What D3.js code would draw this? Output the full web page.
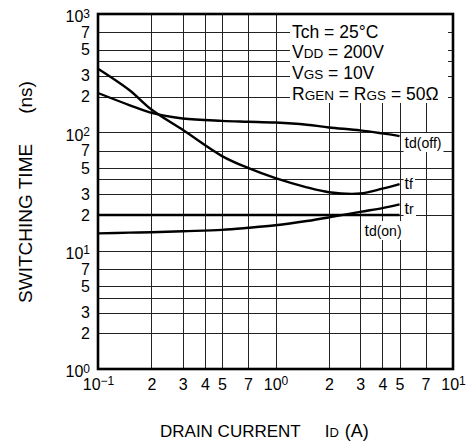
<!DOCTYPE html>
<html>
<head>
<meta charset="utf-8">
<script src="https://cdn.jsdelivr.net/npm/d3@7"></script>
<style>
  body { margin: 0; background: #fff; }
  svg { font-family: "Liberation Sans", Arial, sans-serif; }
  .grid line { stroke: #222; stroke-width: 1; shape-rendering: crispEdges; }
  .grid .domain { display: none; }
  .lbl .domain { display: none; }
  .lbl text { font-size: 16px; fill: #000; }
  .curve { fill: none; stroke: #000; stroke-width: 2.4; }
</style>
</head>
<body>
<svg id="chart"></svg>
<script>
// drain current (A) at which the curves were read
var CURRENT = [0.1, 0.15, 0.2, 0.3, 0.5, 0.7, 1, 1.5, 2, 3, 4, 5];

// switching times (ns)
var TD_OFF = [215, 170, 146, 131, 125, 123, 121, 116, 110, 104, 98, 93];
var TF     = [345, 228, 156, 105, 63, 50, 41, 34.3, 31.2, 30.4, 33.4, 36.5];
var TR     = [14.0, 14.2, 14.3, 14.6, 15.0, 15.6, 16.4, 17.8, 19.1, 21.3, 22.9, 24.6];
var TD_ON  = [20, 20, 20, 20, 20, 20, 20, 20, 20, 20, 20, 20];

var X_GRID = [0.1, 0.2, 0.3, 0.4, 0.5, 0.7, 1, 2, 3, 4, 5, 7, 10];
var Y_GRID = [1, 2, 3, 4, 5, 7, 10, 20, 30, 40, 50, 70, 100, 200, 300, 400, 500, 700, 1000];
var X_LABELS = [0.1, 0.2, 0.3, 0.4, 0.5, 0.7, 1, 2, 3, 4, 5, 7, 10];
var Y_LABELS = [1, 2, 3, 5, 7, 10, 20, 30, 50, 70, 100, 200, 300, 500, 700, 1000];

var CONDITIONS = [
    [["Tch = 25°C", 0]],
    [["V", 0], ["DD", 1], [" = 200V", 0]],
    [["V", 0], ["GS", 1], [" = 10V", 0]],
    [["R", 0], ["GEN", 1], [" = R", 0], ["GS", 1], [" = 50Ω", 0]]
];

(function () {
    var WIDTH = 473, HEIGHT = 441;
    var MARGIN = {left: 98, right: 20, top: 14, bottom: 72};
    var w = WIDTH - MARGIN.left - MARGIN.right;
    var h = HEIGHT - MARGIN.top - MARGIN.bottom;

    var svg = d3.select("#chart").attr("width", WIDTH).attr("height", HEIGHT);
    var chart = svg.append("g").attr("transform", "translate(" + MARGIN.left + "," + MARGIN.top + ")");

    var x = d3.scaleLog().domain([0.1, 10]).range([0, w]);
    var y = d3.scaleLog().domain([1, 1000]).range([h, 0]);

    function isDecade(v) { return Math.abs(Math.log10(v) - Math.round(Math.log10(v))) < 1e-9; }
    function mantissa(v) { return String(Math.round(v / Math.pow(10, Math.floor(Math.log10(v) + 1e-9)))); }

    // write 10^n as base + superscript
    function powerLabels(sel) {
        sel.selectAll(".tick text").each(function (d) {
            if (!isDecade(d)) return;
            var t = d3.select(this).text("");
            var n = Math.round(Math.log10(d));
            t.append("tspan").text("10");
            t.append("tspan").attr("dy", -4.5).style("font-size", "12px")
                .text(n < 0 ? "\u2212" + (-n) : n);
        });
    }

    // grid
    chart.append("g").attr("class", "grid")
        .attr("transform", "translate(0," + h + ")")
        .call(d3.axisBottom(x).tickValues(X_GRID).tickSize(-h).tickFormat(""));
    chart.append("g").attr("class", "grid")
        .call(d3.axisLeft(y).tickValues(Y_GRID).tickSize(-w).tickFormat(""));

    // white patch behind the test conditions
    chart.append("rect").attr("x", 192).attr("y", 1).attr("width", 158).attr("height", 88).attr("fill", "#fff");

    var cond = chart.append("g").attr("transform", "translate(194,0)");
    CONDITIONS.forEach(function (line, i) {
        var t = cond.append("text").attr("y", 23.5 + i * 20.8).style("font-size", "17.5px");
        line.forEach(function (seg) {
            t.append("tspan").style("font-size", seg[1] ? "13.5px" : null).text(seg[0]);
        });
    });

    // curves
    var line = d3.line()
        .x(function (d, i) { return x(CURRENT[i]); })
        .y(function (d) { return y(d); })
        .curve(d3.curveCatmullRom.alpha(0.5));

    [TD_OFF, TF, TR, TD_ON].forEach(function (s) {
        chart.append("path").attr("class", "curve").attr("d", line(s));
    });

    // curve labels, each on a white patch
    var xe = x(CURRENT[CURRENT.length - 1]);
    var tags = [
        {base: "t", sub: "d(off)", x: xe + 5, y: y(TD_OFF[TD_OFF.length - 1]) + 12, anchor: "start"},
        {base: "t", sub: "f", x: xe + 5, y: y(TF[TF.length - 1]) + 5, anchor: "start"},
        {base: "t", sub: "r", x: xe + 5, y: y(TR[TR.length - 1]) + 10, anchor: "start"},
        {base: "t", sub: "d(on)", x: xe + 2, y: y(TD_ON[TD_ON.length - 1]) + 21, anchor: "end"}
    ];
    tags.forEach(function (tg) {
        var g = chart.append("g");
        var t = g.append("text").attr("x", tg.x).attr("y", tg.y)
            .attr("text-anchor", tg.anchor).style("font-size", "16px");
        t.append("tspan").text(tg.base);
        t.append("tspan").style("font-size", "14px").text(tg.sub);
        var bb = t.node().getBBox();
        g.insert("rect", "text")
            .attr("x", bb.x - 1).attr("y", bb.y - 1)
            .attr("width", bb.width + 3).attr("height", bb.height + 2)
            .attr("fill", "#fff");
    });

    // tick labels
    var xl = chart.append("g").attr("class", "lbl")
        .attr("transform", "translate(0," + h + ")")
        .call(d3.axisBottom(x).tickValues(X_LABELS).tickSize(0).tickPadding(9.5).tickFormat(mantissa));
    powerLabels(xl);

    var yl = chart.append("g").attr("class", "lbl")
        .call(d3.axisLeft(y).tickValues(Y_LABELS).tickSize(0).tickPadding(8).tickFormat(mantissa));
    powerLabels(yl);
    yl.selectAll(".tick text").filter(isDecade).attr("dy", "0.48em");

    // frame
    chart.append("rect").attr("width", w).attr("height", h)
        .attr("fill", "none").attr("stroke", "#000").attr("stroke-width", 2.6);

    // axis titles
    var yt = svg.append("text")
        .attr("transform", "translate(32,192) rotate(-90)")
        .attr("text-anchor", "middle").style("font-size", "19px");
    yt.append("tspan").text("SWITCHING TIME");
    yt.append("tspan").attr("dx", 30).text("(ns)");

    var xt = svg.append("text")
        .attr("x", 160).attr("y", 437)
        .style("font-size", "17px");
    xt.append("tspan").text("DRAIN CURRENT");
    xt.append("tspan").attr("dx", 24).text("I");
    xt.append("tspan").style("font-size", "13px").text("D");
    xt.append("tspan").attr("dx", 6).style("font-size", "18px").text("(A)");
}());
</script>
</body>
</html>
